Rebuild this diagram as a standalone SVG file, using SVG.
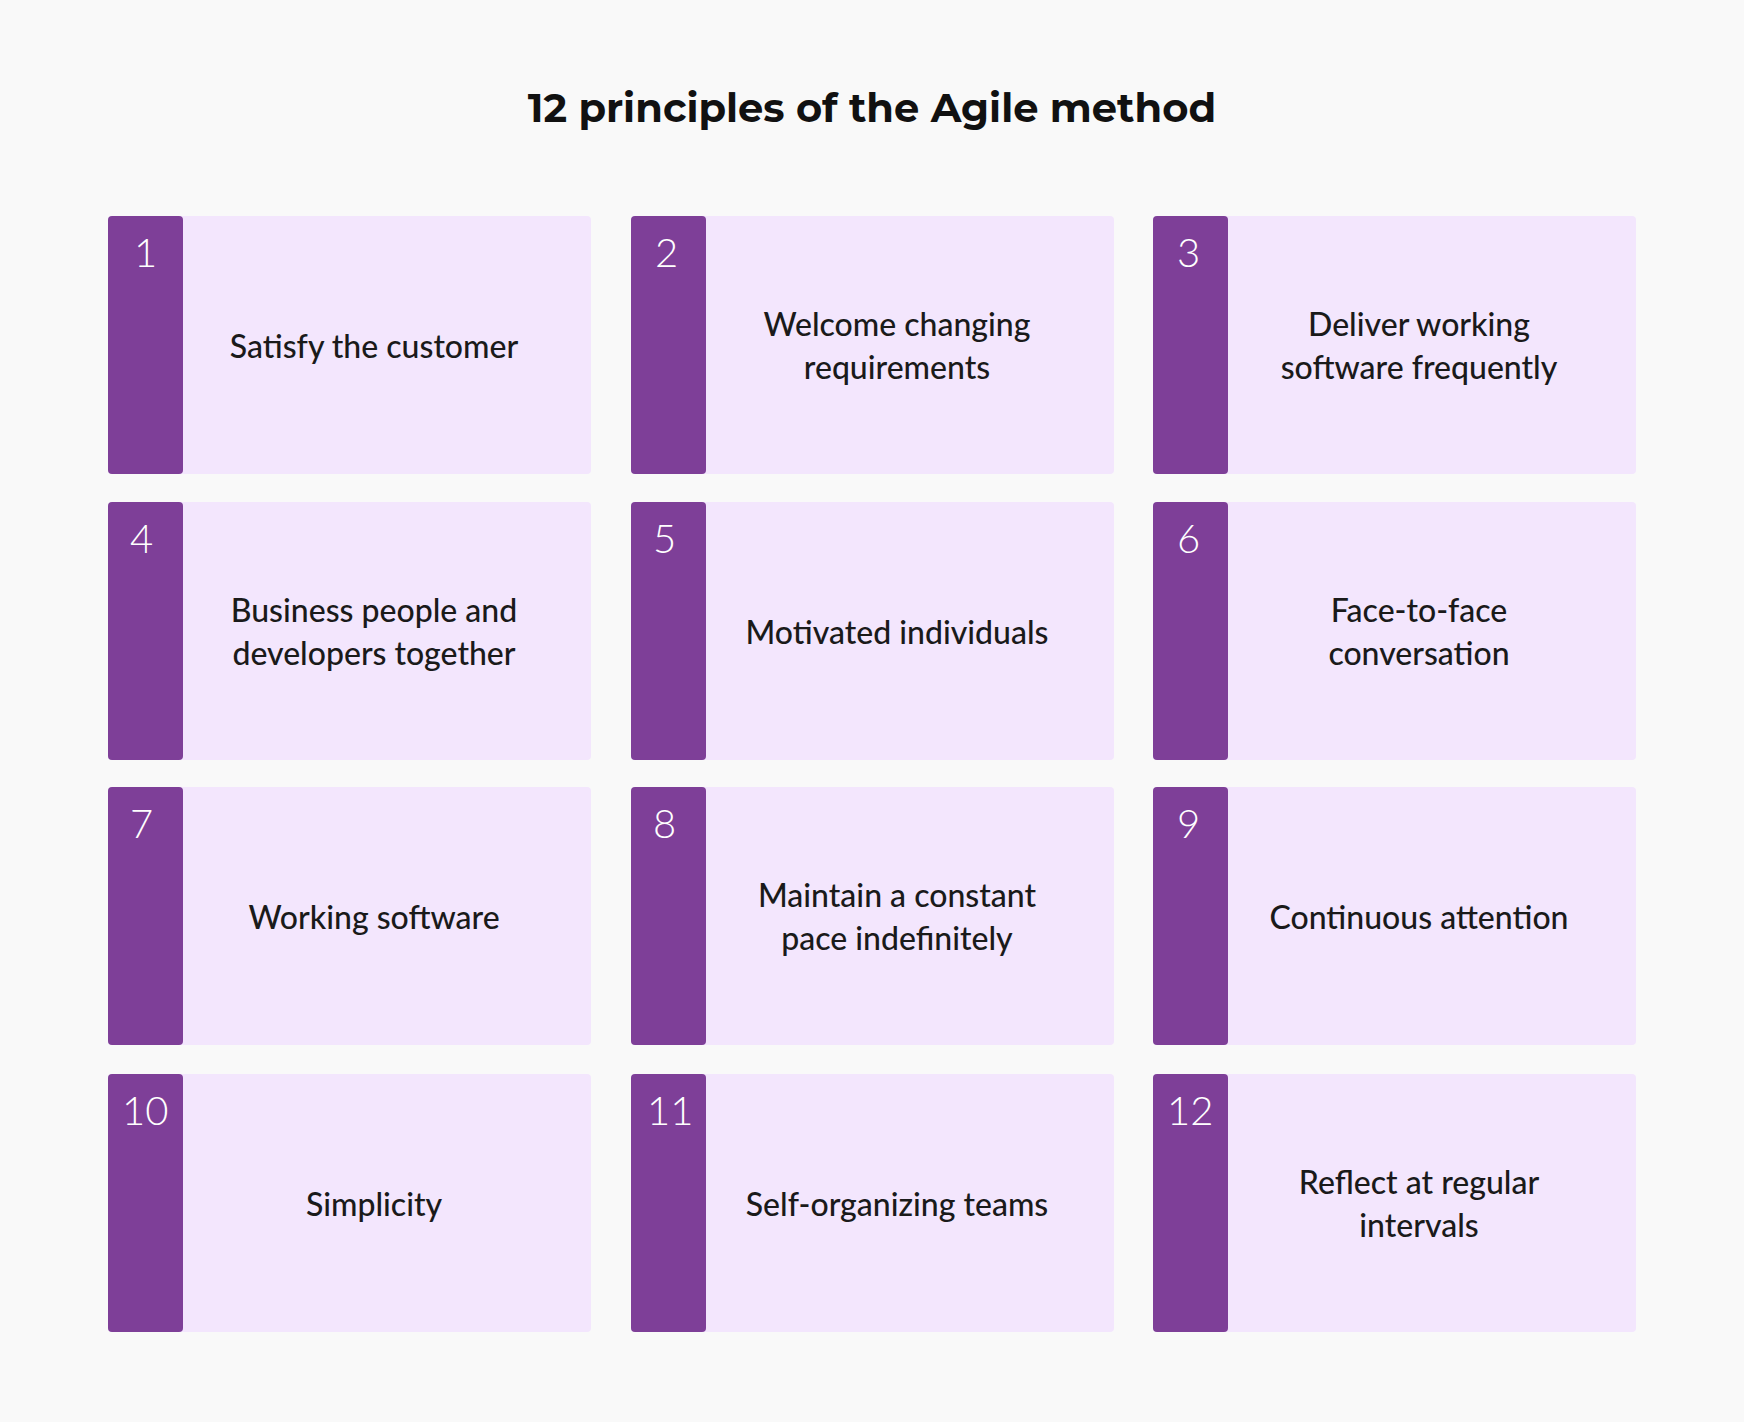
<svg xmlns="http://www.w3.org/2000/svg" width="1744" height="1422" viewBox="0 0 1744 1422">
<style>
.card{fill:#f3e6fd}
.bar{fill:#7e3f98}
.num{font-family:Lato,"Liberation Sans",sans-serif;font-size:40px;fill:#fff;font-weight:300}
.lbl{font-family:Lato,"Liberation Sans",sans-serif;font-size:32px;fill:#1a1a1a;text-anchor:middle;font-weight:500}
.title{font-family:Montserrat,"Open Sans","Liberation Sans",sans-serif;font-size:40px;font-weight:700;fill:#111;text-anchor:middle}
</style>
<rect width="1744" height="1422" fill="#f9f9f9"/>
<text class="title" x="872" y="122">12 principles of the Agile method</text>
<g id="n1" transform="translate(108,216)"><rect class="card" width="483" height="258" rx="4"/><rect class="bar" width="75" height="258" rx="4"/><text class="num" x="26" y="51">1</text><text class="lbl" x="266" y="142">Satisfy the customer</text></g>
<g id="n2" transform="translate(631,216)"><rect class="card" width="483" height="258" rx="4"/><rect class="bar" width="75" height="258" rx="4"/><text class="num" x="24" y="51">2</text><text class="lbl" x="266" y="120">Welcome changing</text><text class="lbl" x="266" y="163">requirements</text></g>
<g id="n3" transform="translate(1153,216)"><rect class="card" width="483" height="258" rx="4"/><rect class="bar" width="75" height="258" rx="4"/><text class="num" x="24" y="51">3</text><text class="lbl" x="266" y="120">Deliver working</text><text class="lbl" x="266" y="163">software frequently</text></g>
<g id="n4" transform="translate(108,502)"><rect class="card" width="483" height="258" rx="4"/><rect class="bar" width="75" height="258" rx="4"/><text class="num" x="22" y="51">4</text><text class="lbl" x="266" y="120">Business people and</text><text class="lbl" x="266" y="163">developers together</text></g>
<g id="n5" transform="translate(631,502)"><rect class="card" width="483" height="258" rx="4"/><rect class="bar" width="75" height="258" rx="4"/><text class="num" x="22" y="51">5</text><text class="lbl" x="266" y="142">Motivated individuals</text></g>
<g id="n6" transform="translate(1153,502)"><rect class="card" width="483" height="258" rx="4"/><rect class="bar" width="75" height="258" rx="4"/><text class="num" x="24" y="51">6</text><text class="lbl" x="266" y="120">Face-to-face</text><text class="lbl" x="266" y="163">conversation</text></g>
<g id="n7" transform="translate(108,787)"><rect class="card" width="483" height="258" rx="4"/><rect class="bar" width="75" height="258" rx="4"/><text class="num" x="22" y="51">7</text><text class="lbl" x="266" y="142">Working software</text></g>
<g id="n8" transform="translate(631,787)"><rect class="card" width="483" height="258" rx="4"/><rect class="bar" width="75" height="258" rx="4"/><text class="num" x="22" y="51">8</text><text class="lbl" x="266" y="120">Maintain a constant</text><text class="lbl" x="266" y="163">pace indefinitely</text></g>
<g id="n9" transform="translate(1153,787)"><rect class="card" width="483" height="258" rx="4"/><rect class="bar" width="75" height="258" rx="4"/><text class="num" x="24" y="51">9</text><text class="lbl" x="266" y="142">Continuous attention</text></g>
<g id="n10" transform="translate(108,1074)"><rect class="card" width="483" height="258" rx="4"/><rect class="bar" width="75" height="258" rx="4"/><text class="num" x="14" y="51">10</text><text class="lbl" x="266" y="142">Simplicity</text></g>
<g id="n11" transform="translate(631,1074)"><rect class="card" width="483" height="258" rx="4"/><rect class="bar" width="75" height="258" rx="4"/><text class="num" x="16" y="51">11</text><text class="lbl" x="266" y="142">Self-organizing teams</text></g>
<g id="n12" transform="translate(1153,1074)"><rect class="card" width="483" height="258" rx="4"/><rect class="bar" width="75" height="258" rx="4"/><text class="num" x="14" y="51">12</text><text class="lbl" x="266" y="120">Reflect at regular</text><text class="lbl" x="266" y="163">intervals</text></g>
<g id="connectors"/>
</svg>
